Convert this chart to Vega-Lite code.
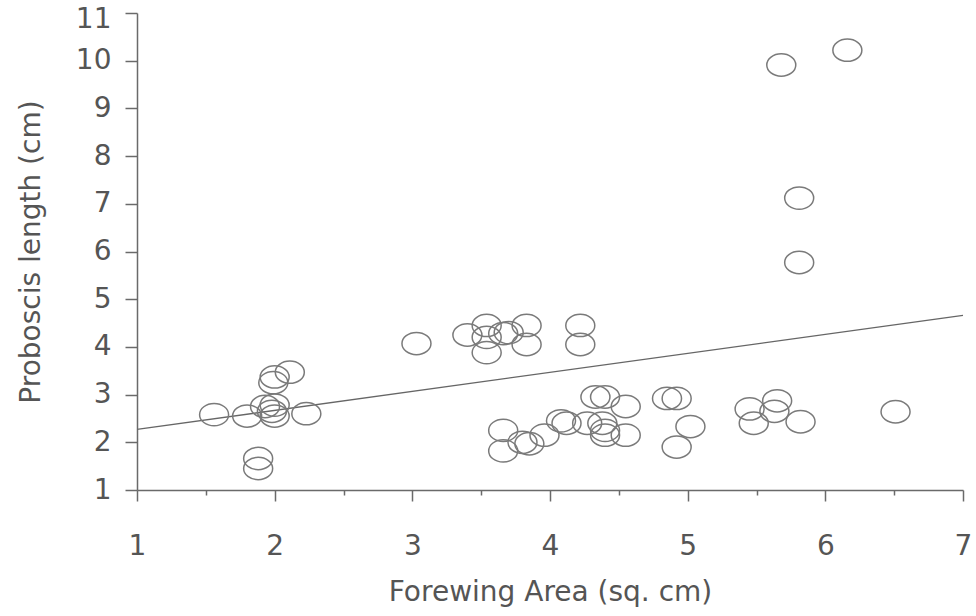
{
  "$schema": "https://vega.github.io/schema/vega-lite/v6.json",
  "width": 826,
  "height": 477,
  "autosize": {"type": "none"},
  "padding": {"left": 137, "top": 13, "right": 13, "bottom": 126},
  "background": "#ffffff",
  "config": {
    "view": {"stroke": null},
    "axis": {
      "grid": false,
      "domainColor": "#6a6a6a",
      "domainWidth": 1.5,
      "tickColor": "#6a6a6a",
      "tickWidth": 1.5,
      "labelFont": "DejaVu Sans",
      "titleFont": "DejaVu Sans",
      "labelColor": "#555555",
      "titleColor": "#555555",
      "labelFontSize": 28,
      "titleFontSize": 28,
      "titleFontWeight": "normal",
      "labelOverlap": false,
      "labelFlush": false
    }
  },
  "datasets": {
    "moths": [
      {"area": 1.56, "proboscis": 2.58},
      {"area": 1.80, "proboscis": 2.55},
      {"area": 1.88, "proboscis": 1.66},
      {"area": 1.88, "proboscis": 1.45},
      {"area": 1.93, "proboscis": 2.75},
      {"area": 1.98, "proboscis": 2.65},
      {"area": 2.00, "proboscis": 2.78},
      {"area": 2.00, "proboscis": 2.55},
      {"area": 1.99, "proboscis": 3.25},
      {"area": 2.00, "proboscis": 3.37},
      {"area": 2.11, "proboscis": 3.47},
      {"area": 2.23, "proboscis": 2.60},
      {"area": 3.03, "proboscis": 4.07},
      {"area": 3.40, "proboscis": 4.25},
      {"area": 3.54, "proboscis": 4.45},
      {"area": 3.54, "proboscis": 4.20},
      {"area": 3.54, "proboscis": 3.88},
      {"area": 3.66, "proboscis": 4.28},
      {"area": 3.70, "proboscis": 4.30},
      {"area": 3.83, "proboscis": 4.45},
      {"area": 3.83, "proboscis": 4.05},
      {"area": 4.22, "proboscis": 4.45},
      {"area": 4.22, "proboscis": 4.05},
      {"area": 3.66, "proboscis": 2.25},
      {"area": 3.66, "proboscis": 1.82},
      {"area": 3.80, "proboscis": 2.00},
      {"area": 3.85, "proboscis": 1.97},
      {"area": 3.96, "proboscis": 2.15},
      {"area": 4.08, "proboscis": 2.45},
      {"area": 4.12, "proboscis": 2.40},
      {"area": 4.27, "proboscis": 2.40},
      {"area": 4.33, "proboscis": 2.95},
      {"area": 4.40, "proboscis": 2.95},
      {"area": 4.38, "proboscis": 2.40},
      {"area": 4.40, "proboscis": 2.25},
      {"area": 4.40, "proboscis": 2.15},
      {"area": 4.55, "proboscis": 2.75},
      {"area": 4.55, "proboscis": 2.15},
      {"area": 4.85, "proboscis": 2.92},
      {"area": 4.92, "proboscis": 2.92},
      {"area": 5.02, "proboscis": 2.33},
      {"area": 4.92, "proboscis": 1.90},
      {"area": 5.45, "proboscis": 2.70},
      {"area": 5.48, "proboscis": 2.40},
      {"area": 5.63, "proboscis": 2.65},
      {"area": 5.65, "proboscis": 2.87},
      {"area": 5.82, "proboscis": 2.43},
      {"area": 6.51, "proboscis": 2.64},
      {"area": 5.68, "proboscis": 9.91},
      {"area": 6.16, "proboscis": 10.22},
      {"area": 5.81, "proboscis": 7.12},
      {"area": 5.81, "proboscis": 5.77}
    ],
    "fit": [
      {"area": 1.0, "proboscis": 2.27},
      {"area": 7.0, "proboscis": 4.66}
    ]
  },
  "layer": [
    {
      "data": {"name": "fit"},
      "mark": {"type": "line", "color": "#666666", "strokeWidth": 1.3},
      "encoding": {
        "x": {"field": "area", "type": "quantitative"},
        "y": {"field": "proboscis", "type": "quantitative"}
      }
    },
    {
      "data": {"name": "moths"},
      "mark": {
        "type": "point",
        "shape": "M-1,0A1,0.77,0,1,1,1,0A1,0.77,0,1,1,-1,0Z",
        "size": 841,
        "filled": false,
        "stroke": "#7a7a7a",
        "strokeWidth": 1.5,
        "opacity": 1
      },
      "encoding": {
        "x": {
          "field": "area",
          "type": "quantitative",
          "scale": {"domain": [1, 7], "nice": false, "zero": false},
          "axis": {
            "title": "Forewing Area (sq. cm)",
            "values": [1, 1.25, 1.5, 1.75, 2, 2.25, 2.5, 2.75, 3, 3.25, 3.5, 3.75, 4, 4.25, 4.5, 4.75, 5, 5.25, 5.5, 5.75, 6, 6.25, 6.5, 6.75, 7],
            "labelExpr": "datum.value % 1 === 0 ? format(datum.value, 'd') : ''",
            "tickSize": {"condition": {"test": "datum.value % 1 === 0", "value": 11}, "value": 5},
            "labelPadding": 31,
            "titlePadding": 18
          }
        },
        "y": {
          "field": "proboscis",
          "type": "quantitative",
          "scale": {"domain": [1, 11], "nice": false, "zero": false},
          "axis": {
            "title": "Proboscis length (cm)",
            "values": [1, 2, 3, 4, 5, 6, 7, 8, 9, 10, 11],
            "format": "d",
            "tickSize": 12,
            "labelPadding": 14,
            "labelOffset": {"condition": {"test": "datum.value === 11", "value": 6}, "value": 0},
            "titlePadding": 30
          }
        }
      }
    }
  ]
}
